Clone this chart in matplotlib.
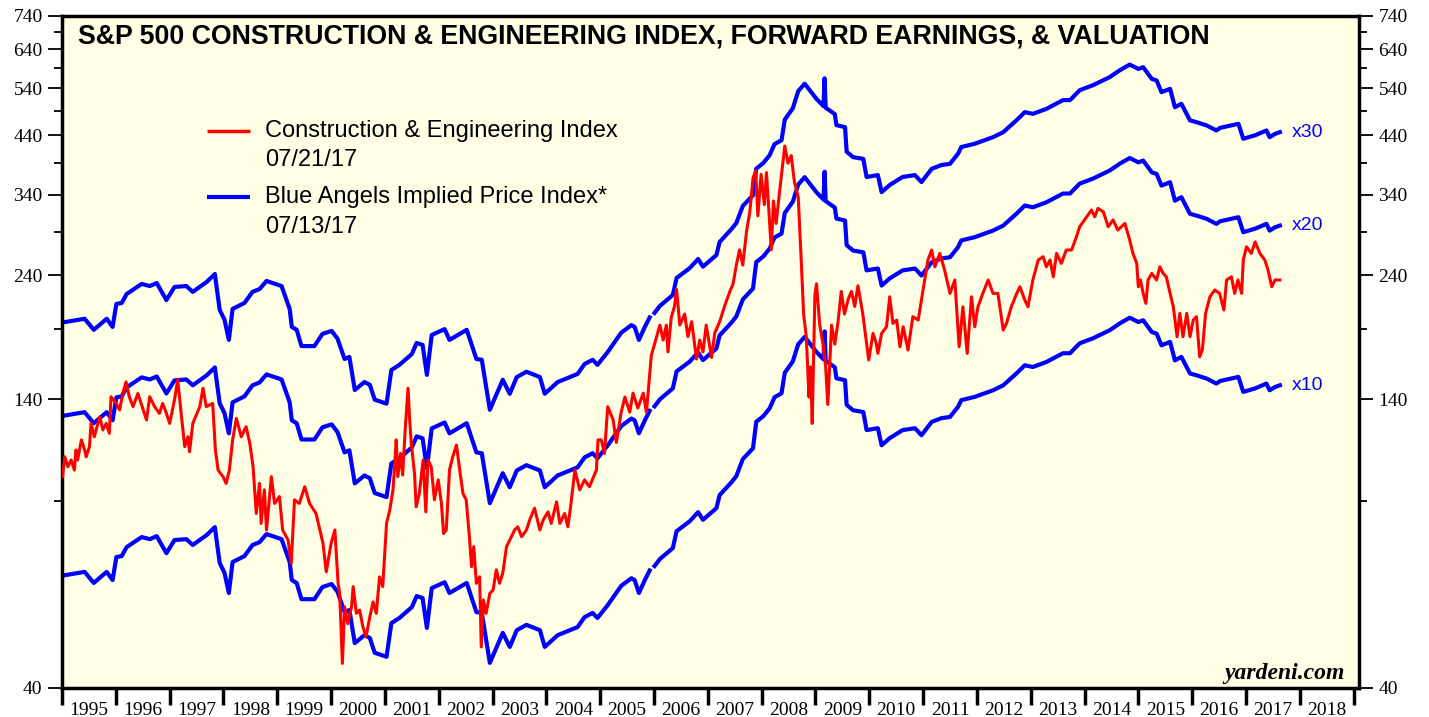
import numpy as np
import matplotlib
matplotlib.use("Agg")
import matplotlib.pyplot as plt
import matplotlib.ticker as mticker

# S&P 500 Construction & Engineering price index (fractional year, index level)
ce_years = [
    1995.01, 1995.05, 1995.11, 1995.17, 1995.23, 1995.26, 1995.29, 1995.36, 1995.42, 1995.45,
    1995.51, 1995.54, 1995.60, 1995.70, 1995.76, 1995.82, 1995.88, 1995.91, 1996.01, 1996.07,
    1996.13, 1996.19, 1996.25, 1996.32, 1996.41, 1996.47, 1996.57, 1996.63, 1996.72, 1996.81,
    1996.87, 1996.94, 1997.00, 1997.09, 1997.15, 1997.22, 1997.28, 1997.34, 1997.37, 1997.43,
    1997.56, 1997.62, 1997.68, 1997.80, 1997.85, 1997.90, 1997.99, 1998.05, 1998.11, 1998.17,
    1998.24, 1998.33, 1998.42, 1998.49, 1998.55, 1998.61, 1998.67, 1998.70, 1998.76, 1998.80,
    1998.89, 1998.95, 1999.04, 1999.10, 1999.20, 1999.26, 1999.32, 1999.41, 1999.51, 1999.60,
    1999.72, 1999.85, 1999.91, 2000.00, 2000.07, 2000.13, 2000.16, 2000.21, 2000.25, 2000.31,
    2000.38, 2000.41, 2000.47, 2000.53, 2000.59, 2000.65, 2000.72, 2000.78, 2000.84, 2000.90,
    2000.96, 2000.99, 2001.03, 2001.09, 2001.15, 2001.18, 2001.21, 2001.24, 2001.29, 2001.33,
    2001.38, 2001.43, 2001.46, 2001.49, 2001.55, 2001.58, 2001.64, 2001.71, 2001.76, 2001.80,
    2001.86, 2001.92, 2001.99, 2002.05, 2002.09, 2002.14, 2002.17, 2002.20, 2002.26, 2002.33,
    2002.39, 2002.45, 2002.51, 2002.57, 2002.61, 2002.65, 2002.70, 2002.76, 2002.79, 2002.83,
    2002.88, 2002.95, 2003.01, 2003.07, 2003.13, 2003.19, 2003.26, 2003.32, 2003.41, 2003.47,
    2003.54, 2003.63, 2003.69, 2003.78, 2003.88, 2003.94, 2004.03, 2004.09, 2004.19, 2004.25,
    2004.34, 2004.40, 2004.45, 2004.53, 2004.62, 2004.71, 2004.80, 2004.93, 2004.96, 2005.02,
    2005.08, 2005.14, 2005.24, 2005.30, 2005.39, 2005.46, 2005.55, 2005.61, 2005.70, 2005.80,
    2005.86, 2005.92, 2005.95, 2006.01, 2006.11, 2006.17, 2006.23, 2006.26, 2006.32, 2006.38,
    2006.42, 2006.48, 2006.57, 2006.63, 2006.70, 2006.79, 2006.85, 2006.91, 2006.97, 2007.07,
    2007.13, 2007.22, 2007.31, 2007.41, 2007.47, 2007.53, 2007.59, 2007.65, 2007.72, 2007.78,
    2007.84, 2007.89, 2007.93, 2007.99, 2008.05, 2008.09, 2008.15, 2008.18, 2008.22, 2008.27,
    2008.33, 2008.43, 2008.49, 2008.55, 2008.61, 2008.68, 2008.74, 2008.78, 2008.83, 2008.88,
    2008.91, 2008.94, 2008.99, 2009.02, 2009.08, 2009.14, 2009.19, 2009.23, 2009.30, 2009.36,
    2009.42, 2009.48, 2009.54, 2009.61, 2009.67, 2009.73, 2009.79, 2009.88, 2009.95, 2009.99,
    2010.07, 2010.13, 2010.16, 2010.23, 2010.32, 2010.38, 2010.44, 2010.51, 2010.57, 2010.63,
    2010.72, 2010.81, 2010.91, 2010.97, 2011.03, 2011.09, 2011.16, 2011.22, 2011.31, 2011.40,
    2011.50, 2011.59, 2011.67, 2011.74, 2011.82, 2011.90, 2011.96, 2012.02, 2012.11, 2012.21,
    2012.30, 2012.39, 2012.49, 2012.55, 2012.64, 2012.74, 2012.80, 2012.89, 2012.95, 2013.04,
    2013.14, 2013.23, 2013.29, 2013.36, 2013.42, 2013.48, 2013.57, 2013.66, 2013.76, 2013.85,
    2013.91, 2014.04, 2014.13, 2014.19, 2014.25, 2014.35, 2014.44, 2014.53, 2014.62, 2014.75,
    2014.84, 2014.90, 2014.97, 2015.00, 2015.04, 2015.09, 2015.14, 2015.18, 2015.25, 2015.34,
    2015.40, 2015.46, 2015.52, 2015.59, 2015.65, 2015.72, 2015.77, 2015.83, 2015.90, 2015.96,
    2016.02, 2016.08, 2016.14, 2016.19, 2016.25, 2016.33, 2016.42, 2016.51, 2016.59, 2016.64,
    2016.73, 2016.79, 2016.85, 2016.92, 2016.95, 2017.01, 2017.10, 2017.17, 2017.26, 2017.35,
    2017.41, 2017.48, 2017.54, 2017.63,
]
ce_index = [
    100.1, 109.1, 104.5, 107.6, 103.0, 112.4, 107.6, 117.4, 112.4, 109.1,
    114.0, 126.1, 119.0, 129.8, 122.6, 126.1, 120.8, 141.6, 137.5, 133.7,
    143.6, 151.0, 141.6, 135.6, 143.6, 137.5, 128.0, 141.6, 135.6, 131.7,
    137.5, 131.7, 126.1, 139.6, 152.3, 129.8, 114.0, 119.0, 111.5, 126.1,
    135.6, 146.9, 135.6, 137.5, 112.4, 103.0, 100.1, 97.2, 103.0, 117.4,
    128.9, 119.0, 124.3, 115.6, 104.5, 85.3, 97.2, 81.7, 94.5, 79.4,
    100.1, 89.1, 91.8, 79.4, 76.0, 68.7, 90.5, 89.1, 95.8, 89.1,
    85.3, 74.9, 66.2, 74.9, 79.4, 63.0, 60.3, 44.5, 56.9, 52.9,
    56.9, 62.1, 55.3, 56.1, 52.2, 50.0, 54.5, 58.1, 55.3, 64.8,
    62.1, 69.7, 81.7, 86.6, 94.5, 104.5, 117.4, 100.1, 110.7, 100.8,
    124.3, 146.9, 128.0, 115.6, 101.5, 87.8, 93.1, 107.6, 85.9, 107.6,
    104.5, 90.5, 98.7, 89.1, 78.2, 79.4, 90.5, 103.0, 109.1, 114.8,
    103.0, 93.1, 90.5, 77.1, 67.7, 73.9, 63.0, 64.8, 47.8, 58.6,
    55.3, 60.3, 61.2, 66.8, 63.0, 65.8, 73.9, 76.0, 79.4, 80.5,
    77.1, 79.4, 82.9, 87.3, 79.4, 82.9, 85.9, 81.7, 89.7, 81.7,
    85.3, 80.5, 87.8, 103.0, 94.5, 98.7, 95.8, 103.0, 117.4, 117.4,
    110.7, 135.6, 128.2, 116.1, 132.4, 141.4, 132.4, 143.8, 134.8, 143.8,
    132.4, 156.2, 169.3, 177.9, 193.2, 181.1, 193.2, 172.0, 199.5, 209.5,
    225.6, 193.2, 202.7, 183.8, 196.1, 166.8, 181.1, 172.0, 193.2, 167.9,
    186.8, 196.1, 209.5, 223.6, 231.1, 250.7, 267.9, 250.7, 290.4, 315.4,
    365.8, 377.4, 310.4, 371.6, 326.0, 374.5, 300.3, 267.9, 331.1, 300.3,
    342.3, 420.2, 390.2, 403.2, 359.3, 336.8, 250.7, 202.7, 183.8, 141.4,
    161.2, 126.1, 220.1, 231.1, 193.2, 177.9, 161.2, 136.9, 193.2, 177.9,
    196.1, 223.6, 202.7, 216.4, 223.6, 209.5, 229.2, 202.7, 178.5, 166.1,
    186.4, 178.5, 170.9, 186.4, 191.8, 218.5, 194.6, 197.5, 175.9, 191.8,
    173.4, 200.4, 197.5, 215.4, 235.0, 256.3, 267.6, 248.9, 263.7, 245.4,
    221.7, 235.0, 175.9, 209.2, 170.9, 218.5, 191.8, 209.2, 221.7, 235.0,
    221.7, 221.7, 189.1, 194.6, 209.2, 221.7, 228.2, 215.4, 209.2, 235.0,
    256.3, 260.0, 248.9, 256.3, 238.3, 263.7, 252.5, 267.6, 267.6, 283.5,
    296.1, 309.2, 318.4, 309.2, 320.7, 315.8, 296.1, 304.9, 291.9, 300.4,
    279.5, 263.7, 252.5, 228.2, 235.0, 221.7, 212.3, 235.0, 241.8, 235.0,
    248.9, 241.8, 238.3, 221.7, 209.2, 183.7, 203.3, 183.7, 203.3, 183.7,
    197.5, 200.4, 168.4, 173.4, 203.3, 218.5, 225.0, 221.7, 206.3, 235.0,
    238.3, 221.7, 235.0, 221.7, 256.3, 271.5, 263.7, 277.3, 263.7, 256.3,
    245.4, 228.2, 235.0, 235.0,
]

# forward earnings per share (fractional year, $); nan = break in the series
eps_years = [
    1995.07, 1995.42, 1995.59, 1995.83, 1995.94, 1996.01, 1996.11, 1996.20, 1996.48, 1996.63,
    1996.76, 1996.94, 1997.09, 1997.31, 1997.43, 1997.69, 1997.84, 1997.93, 1998.02, 1998.10,
    1998.17, 1998.39, 1998.54, 1998.67, 1998.80, 1999.08, 1999.23, 1999.27, 1999.36, 1999.45,
    1999.69, 1999.84, 2000.01, 2000.12, 2000.25, 2000.34, 2000.44, 2000.62, 2000.72, 2000.81,
    2001.03, 2001.12, 2001.27, 2001.50, 2001.59, 2001.70, 2001.78, 2001.87, 2002.11, 2002.20,
    2002.39, 2002.52, 2002.70, 2002.80, 2002.95, 2003.19, 2003.32, 2003.45, 2003.63, 2003.88,
    2003.97, 2004.21, 2004.58, 2004.71, 2004.86, 2004.95, 2005.14, 2005.39, 2005.58, 2005.64,
    2005.72, 2005.83, 2005.92, 2005.96, 2006.01, 2006.11, 2006.35, 2006.42, 2006.66, 2006.82,
    2006.91, 2007.16, 2007.22, 2007.44, 2007.53, 2007.65, 2007.84, 2007.90, 2008.03, 2008.15,
    2008.24, 2008.37, 2008.43, 2008.58, 2008.68, 2008.80, 2009.02, 2009.15, 2009.17, 2009.19,
    2009.36, 2009.39, 2009.55, 2009.58, 2009.70, 2009.89, 2009.95, 2010.16, 2010.23, 2010.38,
    2010.62, 2010.85, 2010.97, 2011.16, 2011.34, 2011.50, 2011.65, 2011.71, 2011.96, 2012.30,
    2012.49, 2012.74, 2012.89, 2013.04, 2013.29, 2013.60, 2013.73, 2013.91, 2014.16, 2014.47,
    2014.66, 2014.84, 2015.00, 2015.09, 2015.25, 2015.34, 2015.43, 2015.59, 2015.68, 2015.80,
    2015.96, 2016.08, 2016.27, 2016.45, 2016.52, 2016.86, 2016.95, 2017.17, 2017.38, 2017.44,
    2017.54, 2017.63,
]
fwd_eps = [
    6.53, 6.62, 6.31, 6.62, 6.39, 7.06, 7.09, 7.37, 7.70, 7.63,
    7.73, 7.18, 7.60, 7.63, 7.44, 7.77, 8.04, 6.88, 6.59, 6.04,
    6.91, 7.09, 7.44, 7.53, 7.80, 7.63, 6.91, 6.39, 6.31, 5.88,
    5.88, 6.20, 6.28, 6.07, 5.56, 5.61, 4.86, 5.03, 4.97, 4.66,
    4.58, 5.30, 5.42, 5.68, 5.96, 5.91, 5.19, 6.17, 6.33, 6.04,
    6.20, 6.31, 5.56, 5.54, 4.46, 5.08, 4.78, 5.14, 5.26, 5.14,
    4.78, 5.03, 5.21, 5.44, 5.54, 5.42, 5.73, 6.23, 6.44, 6.39,
    6.04, 6.39, 6.66, np.nan, 6.79, 7.00, 7.34, 7.90, 8.24, 8.58,
    8.30, 8.73, 9.24, 9.77, 10.03, 10.80, 11.32, 12.70, 13.01, 13.47,
    14.13, 14.37, 15.71, 16.51, 17.78, 18.36, 17.19, 16.66, 18.80, 16.55,
    16.09, 15.34, 15.21, 13.67, 13.35, 13.25, 12.25, 12.35, 11.47, 11.83,
    12.25, 12.35, 11.98, 12.69, 12.90, 12.97, 13.55, 13.95, 14.15, 14.56,
    14.88, 15.68, 16.23, 16.11, 16.46, 17.10, 17.10, 17.85, 18.25, 18.90,
    19.48, 19.95, 19.58, 19.73, 18.75, 18.62, 17.70, 17.96, 16.58, 16.83,
    15.66, 15.54, 15.32, 14.99, 15.16, 15.43, 14.46, 14.68, 14.99, 14.56,
    14.77, 14.88,
]

multiples = [10, 20, 30]
year_ticks = list(range(1995, 2020))
year_labels = [str(y) for y in year_ticks[:-1]]
y_major = [40, 140, 240, 340, 440, 540, 640, 740]
y_minor = [90, 190, 290, 390, 490, 590, 690]

RED = '#FF0000'
BLUE = '#0000FF'
BG = '#FFFFE5'
SANS = 'Liberation Sans'
SERIF = 'Liberation Serif'

plt.rcParams['font.family'] = SERIF

fig = plt.figure(figsize=(14.29, 7.17), dpi=100)
ax = fig.add_axes([0.0434, 0.0405, 0.9076, 0.9376])
ax.set_facecolor(BG)

eps = np.array(fwd_eps)
for m in multiples:
    ax.plot(eps_years, eps * m, color=BLUE, lw=3.0, solid_joinstyle='round', zorder=2)
    ax.text(2017.85, eps[-1] * m, 'x%d' % m, color=BLUE, va='center', ha='left',
            fontsize=14, family=SANS)

ax.plot(ce_years, ce_index, color=RED, lw=2.2, zorder=3)

ax.set_yscale('log')
ax.set_ylim(40, 740)
ax.set_xlim(1995, 2019.1)

ax.yaxis.set_major_locator(mticker.FixedLocator(y_major))
ax.yaxis.set_major_formatter(mticker.FuncFormatter(lambda v, p: '%d' % round(v)))
ax.yaxis.set_minor_locator(mticker.FixedLocator(y_minor))
ax.yaxis.set_minor_formatter(mticker.NullFormatter())
ax.tick_params(axis='y', which='major', direction='out', length=10, width=1.3,
               left=True, right=True, labelleft=True, labelright=True,
               labelsize=14, pad=4)
ax.tick_params(axis='y', which='minor', direction='out', length=5.5, width=1.3,
               left=True, right=True)

ax.xaxis.set_major_locator(mticker.FixedLocator(year_ticks))
ax.xaxis.set_major_formatter(mticker.NullFormatter())
ax.xaxis.set_minor_locator(mticker.FixedLocator([y + 0.5 for y in year_ticks[:-1]]))
ax.xaxis.set_minor_formatter(mticker.FixedFormatter(year_labels))
ax.tick_params(axis='x', which='major', direction='out', length=12, width=2.5)
ax.tick_params(axis='x', which='minor', length=0, pad=10, labelsize=14)

for sp in ax.spines.values():
    sp.set_linewidth(2.5)

# title and legend
ax.text(0.012, 0.9698, 'S&P 500 CONSTRUCTION & ENGINEERING INDEX, FORWARD EARNINGS, & VALUATION',
        transform=ax.transAxes, fontsize=19.3, fontweight='bold', family=SANS, va='center')

legend_rows = [
    (RED, 2.5, 'Construction & Engineering Index', '07/21/17', 0.8285, 0.7854),
    (BLUE, 3.0, 'Blue Angels Implied Price Index*', '07/13/17', 0.7303, 0.6857),
]
for col, lw, lab, dt, y1, y2 in legend_rows:
    ax.plot([0.112, 0.145], [y1, y1], transform=ax.transAxes, color=col, lw=lw,
            solid_capstyle='butt')
    ax.text(0.1565, y1, lab, transform=ax.transAxes, va='center', fontsize=17, family=SANS)
    ax.text(0.1565, y2, dt, transform=ax.transAxes, va='center', fontsize=17, family=SANS)

ax.text(0.989, 0.022, 'yardeni.com', transform=ax.transAxes, ha='right', va='center',
        fontsize=17, fontstyle='italic', fontweight='bold', family=SERIF)

fig.savefig('out.png', dpi=100, facecolor='white')
